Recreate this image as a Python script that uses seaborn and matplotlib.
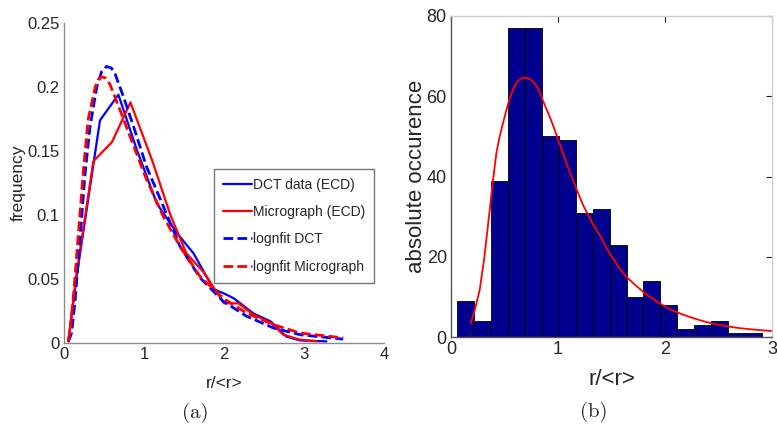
import matplotlib
matplotlib.use("Agg")
import matplotlib.pyplot as plt
import seaborn as sns
import pandas as pd

# ---------------- data: panel (a) ----------------
dct_x = [0.054, 0.158, 0.45, 0.68, 0.91, 1.16, 1.41, 1.62, 1.87, 1.99, 2.12, 2.37, 2.58, 2.78, 2.95, 3.28]
dct_y = [0.0013, 0.052, 0.174, 0.194, 0.151, 0.109, 0.086, 0.070, 0.042, 0.039, 0.035, 0.023, 0.017, 0.005, 0.002, 0.0013]

micro_x = [0.054, 0.15, 0.367, 0.60, 0.83, 1.10, 1.33, 1.53, 1.75, 2.00, 2.18, 2.37, 2.58, 2.74, 2.95, 3.16]
micro_y = [0.0013, 0.051, 0.142, 0.157, 0.188, 0.143, 0.100, 0.070, 0.055, 0.031, 0.031, 0.022, 0.016, 0.0065, 0.0026, 0.0013]

fit_dct_x = [0.054, 0.096, 0.14, 0.20, 0.26, 0.325, 0.41, 0.47, 0.53, 0.59, 0.64, 0.74, 0.87, 1.03, 1.24, 1.45, 1.70, 1.99, 2.28, 2.62, 2.95, 3.49]
fit_dct_y = [0.001, 0.008, 0.034, 0.081, 0.130, 0.169, 0.200, 0.212, 0.216, 0.215, 0.210, 0.193, 0.169, 0.138, 0.107, 0.0755, 0.051, 0.0326, 0.021, 0.0117, 0.0065, 0.003]

fit_micro_x = [0.054, 0.083, 0.125, 0.18, 0.24, 0.30, 0.39, 0.43, 0.47, 0.52, 0.575, 0.70, 0.87, 1.03, 1.24, 1.45, 1.70, 1.99, 2.28, 2.62, 2.95, 3.49]
fit_micro_y = [0.001, 0.013, 0.042, 0.086, 0.133, 0.174, 0.200, 0.206, 0.208, 0.207, 0.202, 0.182, 0.154, 0.128, 0.099, 0.0755, 0.052, 0.035, 0.0234, 0.0143, 0.0078, 0.004]

a_xticks = [0, 1, 2, 3, 4]
a_yticks = [0, 0.05, 0.1, 0.15, 0.2, 0.25]
a_yticklabels = ["0", "0.05", "0.1", "0.15", "0.2", "0.25"]

# ---------------- data: panel (b) ----------------
bin_centers = [0.135, 0.293, 0.452, 0.610, 0.769, 0.927, 1.086, 1.244, 1.403, 1.561,
               1.720, 1.878, 2.037, 2.195, 2.354, 2.512, 2.671, 2.829]
counts = [9, 4, 39, 77, 77, 50, 49, 31, 32, 23, 10, 14, 8, 2, 3, 4, 1, 1]
hist_range = (0.056, 2.908)

curve_x = [0.184, 0.22, 0.268, 0.31, 0.362, 0.39, 0.424, 0.455, 0.486, 0.52, 0.549, 0.58,
           0.611, 0.642, 0.679, 0.72, 0.751, 0.782, 0.813, 0.845, 0.876, 0.915, 0.953,
           1.0, 1.047, 1.093, 1.14, 1.187, 1.234, 1.31, 1.39, 1.45, 1.514, 1.575, 1.639,
           1.72, 1.794, 1.87, 1.95, 2.04, 2.137, 2.23, 2.324, 2.42, 2.51, 2.60, 2.697,
           2.85, 2.997]
curve_y = [3.4, 6.5, 11.7, 19.5, 31.7, 38.5, 45.8, 50.0, 53.3, 56.8, 59.5, 61.6,
           63.4, 64.2, 64.7, 64.5, 64.0, 63.2, 62.0, 59.9, 57.8, 55.4, 52.8,
           49.3, 45.8, 42.3, 39.1, 35.9, 32.9, 28.9, 25.4, 22.3, 19.6, 17.1, 15.0,
           13.0, 11.3, 9.8, 8.4, 7.0, 5.9, 5.0, 4.2, 3.5, 3.0, 2.6, 2.2,
           1.8, 1.5]

b_xticks = [0, 1, 2, 3]
b_yticks = [0, 20, 40, 60, 80]

# ---------------- style ----------------
sns.set_theme(style="white")
plt.rcParams["font.family"] = ["Liberation Sans", "DejaVu Sans"]
plt.rcParams["xtick.direction"] = "in"
plt.rcParams["ytick.direction"] = "in"

fig = plt.figure(figsize=(7.77, 4.24), dpi=100)
ax1 = fig.add_axes([64 / 777, 1 - 343 / 424, 320 / 777, 320 / 424])
ax2 = fig.add_axes([451 / 777, 1 - 337 / 424, 321 / 777, 321 / 424])

# ---------------- panel (a) ----------------
sns.lineplot(x=dct_x, y=dct_y, ax=ax1, color="#0000ff", lw=1.6, label="DCT data (ECD)", sort=False)
sns.lineplot(x=micro_x, y=micro_y, ax=ax1, color="#ff0000", lw=1.6, label="Micrograph (ECD)", sort=False)
sns.lineplot(x=fit_dct_x, y=fit_dct_y, ax=ax1, color="#0000ff", lw=2.0, linestyle=(0, (3.5, 1.5)),
             label="lognfit DCT", sort=False)
sns.lineplot(x=fit_micro_x, y=fit_micro_y, ax=ax1, color="#ff0000", lw=2.0, linestyle=(0, (3.5, 1.5)),
             label="lognfit Micrograph", sort=False)

ax1.set_xlim(0, 4)
ax1.set_ylim(0, 0.25)
ax1.set_xticks(a_xticks)
ax1.set_xticklabels([str(t) for t in a_xticks], fontsize=12)
ax1.set_yticks(a_yticks)
ax1.set_yticklabels(a_yticklabels, fontsize=12)
ax1.tick_params(axis="both", length=4, width=0.8, color="#333333", pad=3)
ax1.spines["top"].set_visible(False)
ax1.spines["right"].set_visible(False)
for s in ("left", "bottom"):
    ax1.spines[s].set_color("#8c8c8c")
    ax1.spines[s].set_linewidth(1.0)
ax1.set_xlabel("r/<r>", fontsize=12.5, labelpad=10)
ax1.set_ylabel("frequency", fontsize=12.5, labelpad=1)

leg = ax1.legend(loc="upper left", bbox_to_anchor=(0.469, 0.544), fontsize=10,
                 handlelength=2.1, handletextpad=0.05, labelspacing=0.95,
                 borderpad=0.65, borderaxespad=0, frameon=True, fancybox=False)
leg.get_frame().set_edgecolor("#555555")
leg.get_frame().set_linewidth(1.0)

# ---------------- panel (b) ----------------
df = pd.DataFrame({"r": bin_centers, "n": counts})
sns.histplot(data=df, x="r", weights="n", bins=len(bin_centers), binrange=hist_range,
             ax=ax2, color="#00008f", edgecolor="black", linewidth=0.6, alpha=1.0)
sns.lineplot(x=curve_x, y=curve_y, ax=ax2, color="#ff0000", lw=1.3, sort=False)

ax2.set_xlim(0, 3)
ax2.set_ylim(0, 80)
ax2.set_xticks(b_xticks)
ax2.set_xticklabels([str(t) for t in b_xticks], fontsize=13)
ax2.set_yticks(b_yticks)
ax2.set_yticklabels([str(t) for t in b_yticks], fontsize=13)
ax2.tick_params(axis="both", length=4, width=0.8, color="#222222", pad=3,
                top=True, right=True)
for s in ("left", "bottom"):
    ax2.spines[s].set_color("#555555")
    ax2.spines[s].set_linewidth(1.0)
for s in ("top", "right"):
    ax2.spines[s].set_color("#d0d0d0")
    ax2.spines[s].set_linewidth(1.0)
ax2.set_xlabel("r/<r>", fontsize=16, labelpad=8)
ax2.set_ylabel("absolute occurence", fontsize=16, labelpad=0)

# ---------------- captions ----------------
fig.text(195 / 777, 1 - 413 / 424, "(a)", fontsize=15, family=["cmr10", "DejaVu Serif"],
         ha="center", va="center")
fig.text(594 / 777, 1 - 412 / 424, "(b)", fontsize=15, family=["cmr10", "DejaVu Serif"],
         ha="center", va="center")

fig.savefig("out.png", dpi=100)
